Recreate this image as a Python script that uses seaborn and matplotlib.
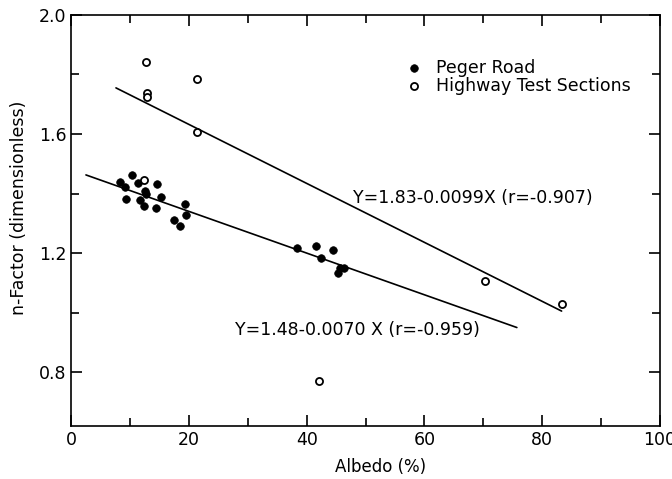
"""
n-Factor vs. albedo for Peger Road and the highway test sections,
with the two fitted regression lines.
"""

import matplotlib
matplotlib.use("Agg")
import matplotlib.pyplot as plt
import numpy as np
import pandas as pd
import seaborn as sns

# ---------- data ----------
peger_albedo = [8.3, 9.2, 9.3, 10.3, 11.3, 11.6, 12.4, 12.6, 12.7, 14.4, 14.5,
                15.2, 17.5, 18.4, 19.4, 19.5,
                38.4, 41.6, 42.4, 44.4, 45.4, 45.7, 46.3]
peger_nfactor = [1.44, 1.423, 1.382, 1.462, 1.434, 1.378, 1.358, 1.41, 1.40, 1.35, 1.432,
                 1.39, 1.311, 1.291, 1.365, 1.328,
                 1.218, 1.225, 1.184, 1.21, 1.132, 1.149, 1.151]

highway_albedo = [12.4, 12.7, 12.8, 12.8, 21.3, 21.4, 42.1, 70.3, 83.3]
highway_nfactor = [1.445, 1.843, 1.739, 1.724, 1.785, 1.608, 0.771, 1.107, 1.028]

# fitted lines as printed on the chart: Y = a + b X, drawn over the given x span
peger_fit = {"a": 1.48, "b": -0.0070, "x": [2.5, 75.7]}
highway_fit = {"a": 1.83, "b": -0.0099, "x": [7.6, 83.3]}

x_ticks = [0, 20, 40, 60, 80, 100]
y_ticks = [0.8, 1.2, 1.6, 2.0]


def main():
    sns.set_style("ticks")
    plt.rcParams["font.family"] = ["DejaVu Sans"]
    for key in ("text.color", "axes.labelcolor", "xtick.color",
                "ytick.color", "axes.edgecolor"):
        plt.rcParams[key] = "black"

    fig = plt.figure(figsize=(6.72, 4.79), dpi=100)
    ax = fig.add_axes([0.106, 0.111, 0.876, 0.858])

    peger = pd.DataFrame({"albedo": peger_albedo, "n": peger_nfactor})
    highway = pd.DataFrame({"albedo": highway_albedo, "n": highway_nfactor})

    # ---------- regression lines ----------
    for fit in (peger_fit, highway_fit):
        xs = np.array(fit["x"])
        sns.lineplot(x=xs, y=fit["a"] + fit["b"] * xs, ax=ax,
                     color="black", linewidth=1.2)

    # ---------- points ----------
    sns.scatterplot(data=peger, x="albedo", y="n", ax=ax, s=30,
                    color="black", edgecolor="black", linewidth=0.5,
                    label="Peger Road", zorder=3)
    sns.scatterplot(data=highway, x="albedo", y="n", ax=ax, s=26,
                    facecolor="white", edgecolor="black", linewidth=1.3,
                    label="Highway Test Sections", zorder=3)

    # ---------- equations ----------
    ax.text(47.9, 1.385, "Y=1.83-0.0099X (r=-0.907)", fontsize=12.5, va="center")
    ax.text(27.8, 0.941, "Y=1.48-0.0070 X (r=-0.959)", fontsize=12.5, va="center")

    # ---------- axes ----------
    ax.set_xlim(0, 100)
    ax.set_ylim(0.62, 2.0)
    ax.set_xticks(x_ticks)
    ax.set_xticks([10, 30, 50, 70, 90], minor=True)
    ax.set_yticks(y_ticks)
    ax.set_yticks([1.0, 1.4, 1.8], minor=True)
    ax.set_yticklabels([f"{v:.1f}" for v in y_ticks])
    ax.tick_params(which="both", direction="in", top=True, right=True,
                   labelsize=12.5, width=1.2)
    ax.tick_params(which="major", length=8)
    ax.tick_params(which="minor", length=6)
    for side in ax.spines.values():
        side.set_visible(True)
        side.set_linewidth(1.2)

    ax.set_xlabel("Albedo (%)", fontsize=12)
    ax.set_ylabel("n-Factor (dimensionless)", fontsize=12.5)
    ax.xaxis.set_label_coords(0.525, -0.078)
    ax.yaxis.set_label_coords(-0.074, 0.53)

    ax.legend(loc="upper left", bbox_to_anchor=(0.555, 0.91), frameon=False,
              fontsize=12.5, handlelength=1.0, handletextpad=0.8,
              labelspacing=0.0, borderaxespad=0)

    fig.savefig("out.png", dpi=100)
    plt.close(fig)


if __name__ == "__main__":
    main()
